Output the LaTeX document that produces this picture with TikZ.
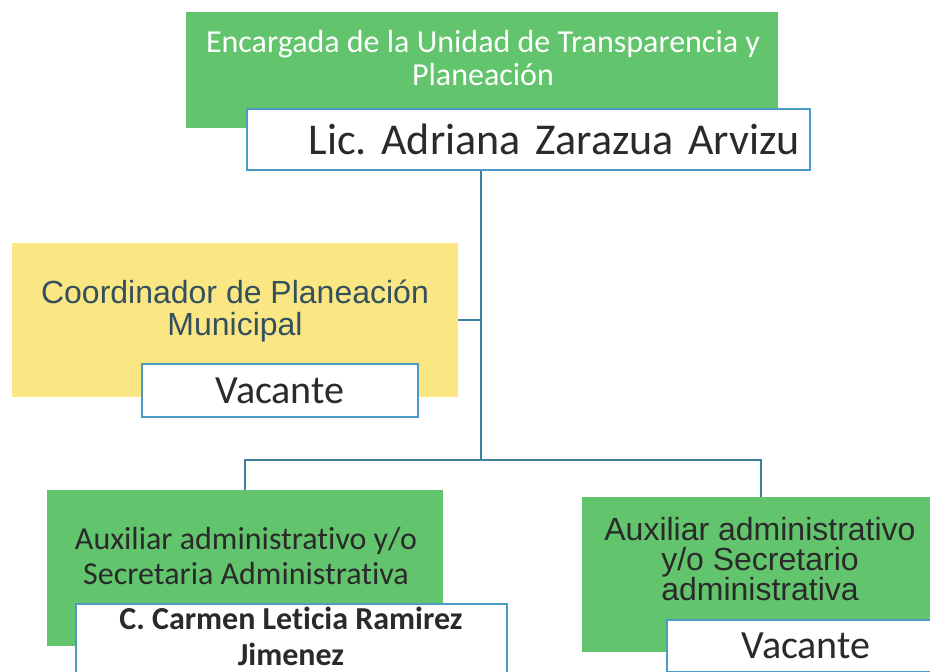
\documentclass[tikz,border=0pt]{standalone}
\usepackage{fontspec}
\setmainfont{Carlito}[Ligatures=NoCommon]
\newfontfamily\arialf{Liberation Sans}
\definecolor{verde}{HTML}{62C46C}
\definecolor{amarillo}{HTML}{FAE682}
\definecolor{borde}{HTML}{4A9CC4}
\definecolor{linea}{HTML}{3C809E}
\definecolor{pizarra}{HTML}{34505E}
\definecolor{texto}{HTML}{2A2A2A}
\frenchspacing

\begin{document}
\begin{tikzpicture}[x=1pt,y=-1pt,
	cajaverde/.style={rectangle, fill=verde, inner sep=0pt},
	cajaamarilla/.style={rectangle, fill=amarillo, inner sep=0pt},
	cajablanca/.style={rectangle, fill=white, draw=borde, line width=2pt, inner sep=0pt, text=texto},
	rotulo/.style={inner sep=0pt, anchor=base, align=center},
	conector/.style={draw=linea, line width=2.4pt}]
	\useasboundingbox (0,0) rectangle (930,672);
	\clip (0,0) rectangle (930,672);
	\fill[white] (0,0) rectangle (930,672);
	% cajas de color
	\node[cajaverde, minimum width=592pt, minimum height=116pt] (jefa) at (482,70) {};
	\node[cajaamarilla, minimum width=446pt, minimum height=154pt] (coord) at (235,320) {};
	\node[cajaverde, minimum width=396pt, minimum height=156pt] (aux1) at (245,568) {};
	\node[cajaverde, minimum width=358pt, minimum height=155pt] (aux2) at (761,574.5) {};
	% nombres
	\node[cajablanca, minimum width=563pt, minimum height=61pt, text width=543pt, align=right,
		font=\fontsize{44}{50}\selectfont] (lic) at (528.5,139.5) {Lic. Adriana Zarazua Arvizu};
	\node[cajablanca, minimum width=276pt, minimum height=53pt,
		font=\fontsize{40}{46}\selectfont] (vac1) at (280,390.5) {Vacante};
	\node[cajablanca, minimum width=431pt, minimum height=116pt] (carmen) at (291.5,662) {};
	\node[cajablanca, minimum width=278pt, minimum height=52pt,
		font=\fontsize{40}{46}\selectfont] (vac2) at (806,646) {Vacante};
	% textos de los puestos
	\node[rotulo, text=white, font=\fontsize{32}{33}\selectfont] (jefa-t) at (483,85)
		{Encargada de la Unidad de Transparencia y\\Planeación};
	\node[rotulo, text=pizarra, font=\arialf\fontsize{32}{32}\selectfont] (coord-t) at (235,335)
		{Coordinador de Planeación\\Municipal};
	\node[rotulo, text=texto, font=\fontsize{32}{35}\selectfont] (aux1-t) at (246,584)
		{Auxiliar administrativo y/o\\Secretaria Administrativa};
	\node[rotulo, text=texto, font=\bfseries\fontsize{32}{36}\selectfont] (carmen-t) at (291,665)
		{C. Carmen Leticia Ramirez\\Jimenez};
	\node[rotulo, text=texto, font=\arialf\fontsize{32}{30}\selectfont] (aux2-t) at (760,600)
		{Auxiliar administrativo\\y/o Secretario\\administrativa};
	% lineas
	\coordinate (tronco) at (481,460);
	\draw[conector] (lic.south -| tronco) -- (tronco);
	\draw[conector] (coord.east) -- (coord.east -| tronco);
	\draw[conector] (aux1.north) -- (aux1.north |- tronco) -- (aux2.north |- tronco) -- (aux2.north);
\end{tikzpicture}
\end{document}
